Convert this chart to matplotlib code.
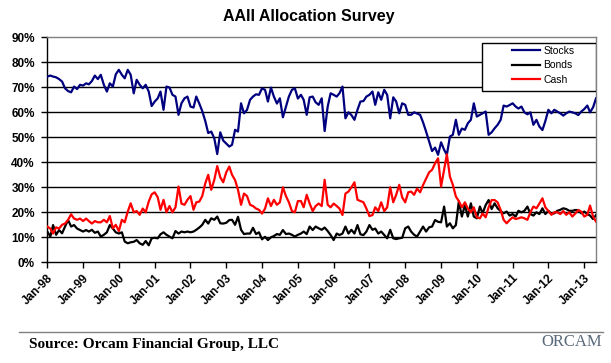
import matplotlib
matplotlib.use("Agg")
import matplotlib.pyplot as plt
from matplotlib.patches import Rectangle
import pandas as pd

stocks = [74.3, 74.7, 74.3, 74.0, 73.3, 72.3, 69.6, 68.5, 68.0, 70.3, 69.3, 71.0,
          70.7, 71.6, 71.2, 72.5, 74.7, 73.3, 75.0, 71.0, 68.3, 71.6, 70.3, 75.2,
          77.0, 75.0, 73.6, 77.0, 75.0, 67.6, 73.0, 71.0, 69.6, 71.0, 68.3, 62.5,
          64.3, 65.6, 68.3, 61.0, 70.3, 69.9, 67.0, 66.3, 59.0, 63.6, 65.6, 66.3,
          62.3, 61.9, 66.3, 63.5, 60.5, 56.5, 51.7, 52.3, 49.6, 43.3, 52.0, 48.7,
          47.5, 46.3, 47.0, 53.0, 52.3, 63.6, 59.6, 61.0, 65.0, 66.3, 67.2, 67.0,
          69.6, 69.0, 64.3, 69.9, 66.3, 63.5, 65.6, 58.0, 62.3, 66.3, 69.0, 69.6,
          65.5, 67.0, 65.0, 59.0, 66.0, 66.3, 64.0, 63.0, 65.6, 52.5, 62.3, 67.6,
          67.0, 66.3, 67.6, 70.3, 57.6, 60.0, 58.9, 57.0, 61.0, 64.3, 64.5, 66.3,
          67.0, 68.3, 63.0, 68.0, 65.0, 69.0, 67.0, 57.6, 66.0, 64.3, 59.6, 63.6,
          63.0, 59.0, 59.0, 60.0, 59.5, 59.0, 56.0, 52.3, 48.3, 44.5, 45.9, 43.0,
          48.0, 45.0, 43.0, 50.3, 51.0, 57.0, 51.0, 53.5, 53.0, 55.6, 57.0, 63.6,
          58.3, 59.0, 59.6, 60.3, 51.0, 52.0, 53.6, 55.0, 57.0, 62.7, 62.3, 62.9,
          63.6, 62.3, 61.5, 62.3, 60.0, 59.2, 60.0, 55.0, 57.0, 54.3, 52.9, 56.5,
          61.0, 59.6, 61.0, 60.3, 59.6, 58.7, 59.6, 60.3, 60.0, 59.6, 58.9, 60.3,
          61.3, 62.7, 60.0, 62.0, 65.6]

bonds = [12.3, 10.3, 14.9, 11.0, 12.9, 11.6, 14.3, 16.9, 14.3, 14.9, 13.5, 12.9,
         12.3, 12.9, 12.3, 13.0, 11.8, 12.3, 10.3, 11.0, 12.0, 14.9, 13.5, 12.0,
         11.5, 12.0, 8.3, 7.6, 8.0, 8.2, 8.9, 7.6, 7.0, 8.5, 6.8, 9.6,
         9.8, 9.6, 11.2, 12.0, 11.0, 10.3, 9.6, 12.5, 11.5, 12.3, 12.0, 12.3,
         12.0, 12.3, 13.0, 13.9, 15.0, 17.0, 15.5, 17.6, 17.0, 18.3, 15.6, 15.5,
         15.8, 16.9, 17.0, 15.0, 18.2, 13.0, 11.3, 11.5, 11.5, 13.8, 11.3, 12.0,
         9.2, 10.2, 8.9, 10.0, 10.5, 11.3, 11.0, 12.9, 11.3, 11.5, 11.0, 10.3,
         11.0, 11.5, 12.3, 11.3, 14.3, 12.9, 14.3, 13.6, 13.0, 13.9, 12.5, 10.9,
         8.9, 11.5, 10.9, 11.5, 14.3, 11.5, 13.0, 11.5, 14.9, 11.2, 10.9, 12.3,
         14.9, 13.0, 13.5, 11.5, 12.3, 10.9, 9.6, 13.0, 9.6, 9.3, 9.6, 9.8,
         13.6, 14.3, 12.3, 11.0, 10.3, 12.3, 14.3, 12.3, 14.0, 14.3, 16.9, 16.2,
         16.0, 22.3, 14.3, 15.6, 13.6, 14.9, 24.3, 18.3, 22.9, 18.3, 23.6, 18.3,
         17.6, 22.3, 19.6, 22.9, 24.9, 21.3, 23.6, 21.6, 20.5, 19.6, 20.3, 18.7,
         19.3, 18.3, 20.6, 20.0, 20.6, 22.3, 19.3, 18.7, 20.0, 19.3, 21.6, 19.3,
         20.6, 19.3, 19.6, 20.6, 21.0, 21.6, 21.3, 20.6, 20.6, 20.9, 20.9, 19.6,
         20.3, 19.3, 18.7, 17.3, 18.9]

cash = [14.3, 13.5, 11.5, 14.0, 13.5, 15.0, 15.5, 17.0, 19.2, 17.5, 17.0, 17.5,
        16.5, 17.5, 16.5, 15.5, 16.5, 16.0, 16.0, 17.0, 16.0, 18.5, 13.6, 15.0,
        12.5, 17.0, 16.0, 20.3, 23.6, 20.0, 20.5, 19.0, 21.5, 20.0, 24.3, 27.2,
        28.0, 26.0, 21.0, 25.0, 20.0, 22.5, 20.0, 22.0, 30.3, 23.5, 23.0, 25.0,
        26.5, 21.0, 24.0, 24.3, 26.5, 31.6, 35.0, 29.0, 33.0, 38.5, 34.0, 32.0,
        36.0, 38.3, 35.0, 32.9, 29.0, 23.0, 27.5, 26.5, 23.0, 22.5, 21.5, 21.0,
        19.5, 21.5, 25.6, 22.5, 25.0, 23.0, 24.0, 30.0, 26.5, 24.0, 20.5, 20.0,
        24.5, 24.5, 22.0, 27.0, 23.5, 20.5, 22.5, 23.5, 22.5, 33.0, 23.0, 22.0,
        23.5, 22.5, 21.5, 18.9, 27.5, 28.3, 30.0, 32.0, 25.0, 24.5, 24.0, 21.5,
        18.5, 18.9, 22.0, 20.5, 24.0, 20.5, 22.0, 30.0, 24.0, 27.0, 31.0, 26.0,
        24.0, 28.0, 28.3, 27.0, 29.5, 28.0, 30.9, 33.5, 36.0, 37.0, 39.6, 41.6,
        30.3, 37.0, 43.2, 34.3, 31.0, 26.3, 24.5, 22.0, 24.0, 21.5, 20.0, 22.0,
        18.0, 17.6, 19.5, 18.0, 22.0, 24.9, 24.9, 24.0, 20.9, 17.0, 15.6, 16.9,
        18.0, 17.3, 17.6, 18.0, 17.6, 17.0, 20.0, 22.3, 21.6, 23.5, 25.6, 22.0,
        20.5, 19.0, 20.0, 20.0, 19.3, 20.5, 19.0, 20.0, 18.3, 19.5, 20.9, 20.3,
        18.3, 19.0, 22.7, 18.3, 16.3]

series_names = ["Stocks", "Bonds", "Cash"]
series_colors = ["#00007F", "#000000", "#FF0000"]
tick_labels = ["Jan-98", "Jan-99", "Jan-00", "Jan-01", "Jan-02", "Jan-03", "Jan-04",
               "Jan-05", "Jan-06", "Jan-07", "Jan-08", "Jan-09", "Jan-10", "Jan-11",
               "Jan-12", "Jan-13"]
y_ticks = [0, 10, 20, 30, 40, 50, 60, 70, 80, 90]

dates = pd.date_range("1998-01-01", periods=len(stocks), freq="MS")
tick_dates = pd.date_range("1998-01-01", periods=len(tick_labels), freq="12MS")

sans = ["Liberation Sans", "DejaVu Sans"]
fig = plt.figure(figsize=(6.11, 3.63), dpi=100)
fig.patch.set_facecolor("white")
ax = fig.add_axes([0.0774, 0.2774, 0.8981, 0.6198])

for vals, name, col in zip([stocks, bonds, cash], series_names, series_colors):
    ax.plot(dates, vals, color=col, lw=1.6, label=name, zorder=3)

ax.set_xlim(dates[0], dates[-1])
ax.set_ylim(0, 90)
ax.set_yticks(y_ticks)
ax.set_yticklabels([f"{v}%" for v in y_ticks], fontsize=8.5, fontweight="bold", family=sans)
for v in y_ticks[1:-1]:
    ax.axhline(v, color="black", lw=1.0, zorder=1)

ax.set_xticks(tick_dates)
ax.set_xticklabels(tick_labels, rotation=45, ha="right", rotation_mode="anchor",
                   fontsize=8.5, fontweight="bold", family=sans)
ax.tick_params(axis="x", length=4, width=1, direction="out", pad=3)
ax.tick_params(axis="y", length=4, width=1, direction="out", pad=5)

ax.spines["left"].set_color("black")
ax.spines["bottom"].set_color("black")
ax.spines["top"].set_color("#808080")
ax.spines["right"].set_color("#808080")
for s in ax.spines.values():
    s.set_linewidth(1.0)

# legend box (Excel style, with empty space on the left)
ax.add_patch(Rectangle((0.792, 0.761), 0.208, 0.214, transform=ax.transAxes,
                       facecolor="white", edgecolor="black", lw=1.0, zorder=5))
leg = ax.legend(loc="upper left", bbox_to_anchor=(0.843, 0.975), frameon=False,
                prop={"family": sans, "size": 7.5}, handlelength=2.6, borderpad=0.25,
                labelspacing=0.45, handletextpad=0.35, borderaxespad=0)
leg.set_zorder(6)

fig.text(0.505, 0.955, "AAII Allocation Survey", ha="center", va="center",
         fontsize=11.5, fontweight="bold", family=sans)

fig.add_artist(plt.Line2D([0.031, 0.987], [0.085, 0.085], color="#808080", lw=1.0,
                          transform=fig.transFigure))
fig.text(0.047, 0.052, "Source: Orcam Financial Group, LLC", ha="left", va="center",
         fontsize=11, fontweight="bold", family=["Liberation Serif", "DejaVu Serif"])
fig.text(0.985, 0.058, "ORCAM", ha="right", va="center", fontsize=12,
         color="#5a6a7a", family=["Liberation Serif", "DejaVu Serif"])

fig.savefig("out.png", dpi=100)
